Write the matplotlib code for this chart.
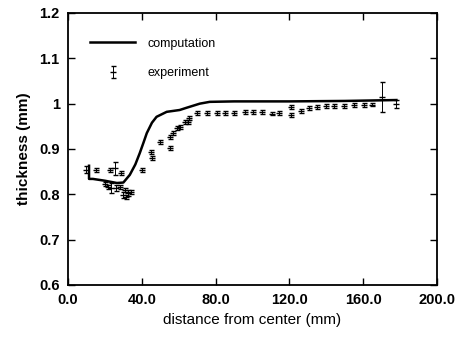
import numpy as np
import matplotlib
matplotlib.use("Agg")
import matplotlib.pyplot as plt

plt.rcParams['font.family'] = ['Liberation Sans', 'DejaVu Sans']

# computation curve
comp_x = [11.4, 11.4, 13.5, 20.0, 26.5, 30.0, 33.5, 36.5, 38.9, 41.0, 42.7, 45.5,
          48.0, 53.5, 60.5, 64.3, 71.4, 76.8, 90.0, 120.0, 150.0, 178.0]
comp_y = [0.863, 0.834, 0.834, 0.830, 0.825, 0.826, 0.843, 0.866, 0.891, 0.915, 0.935, 0.958,
          0.971, 0.982, 0.986, 0.991, 1.000, 1.004, 1.005, 1.005, 1.006, 1.008]

# experiment points with error bars
exp_x = [9.7, 15.1, 20.0, 21.6, 22.7, 23.2, 25.4, 26.0, 28.1, 28.6, 29.7, 30.8, 31.4, 32.4, 34.1,
         40.0, 44.9, 45.4, 49.7, 55.1, 55.1, 56.8, 58.9, 60.5, 63.2, 64.9, 65.5, 69.7, 75.1,
         80.5, 85.0, 90.0, 95.7, 100.0, 105.4, 110.8, 114.6, 121.0, 121.0, 126.5, 130.8, 135.0,
         140.0, 144.3, 149.7, 155.0, 160.5, 165.0, 170.0, 178.0]
exp_y = [0.854, 0.854, 0.823, 0.816, 0.854, 0.814, 0.857, 0.814, 0.816, 0.847, 0.799, 0.810, 0.794,
         0.803, 0.805, 0.854, 0.894, 0.880, 0.916, 0.902, 0.927, 0.935, 0.946, 0.949, 0.960, 0.960,
         0.968, 0.980, 0.980, 0.980, 0.980, 0.980, 0.982, 0.982, 0.982, 0.978, 0.980, 0.993, 0.975,
         0.984, 0.990, 0.993, 0.995, 0.995, 0.995, 0.997, 0.997, 0.998, 1.015, 0.999]
exp_err = [0.008, 0.004, 0.004, 0.004, 0.004, 0.012, 0.015, 0.006, 0.004, 0.004, 0.006, 0.004, 0.005,
           0.006, 0.004, 0.004, 0.004, 0.004, 0.004, 0.004, 0.004, 0.004, 0.004, 0.004, 0.005, 0.004,
           0.004, 0.004, 0.004, 0.004, 0.004, 0.004, 0.004, 0.004, 0.004, 0.004, 0.004, 0.004, 0.004,
           0.004, 0.004, 0.004, 0.004, 0.004, 0.004, 0.004, 0.004, 0.004, 0.033, 0.008]

xticks = [0, 40, 80, 120, 160, 200]
xlabels = ["0.0", "40.0", "80.0", "120.0", "160.0", "200.0"]
yticks = [0.6, 0.7, 0.8, 0.9, 1.0, 1.1, 1.2]
ylabels = ["0.6", "0.7", "0.8", "0.9", "1", "1.1", "1.2"]

fig = plt.figure(figsize=(4.59, 3.42), dpi=100)
ax = fig.add_axes([68/459, 1 - 285/342, (437 - 68)/459, (285 - 13)/342])

ax.plot(comp_x, comp_y, color='black', lw=1.8, label='computation')
ax.errorbar(exp_x, exp_y, yerr=exp_err, fmt='_', color='black', ms=5, mew=1.0,
            elinewidth=0.7, capsize=1.8, capthick=0.7, label='experiment')

ax.set_xlim(0, 200)
ax.set_ylim(0.6, 1.2)
ax.set_xticks(xticks)
ax.set_xticklabels(xlabels)
ax.set_yticks(yticks)
ax.set_yticklabels(ylabels)
ax.tick_params(direction='in', top=True, right=True, length=5, width=1.0,
               labelsize=10.5, pad=6)
for lab in ax.get_xticklabels() + ax.get_yticklabels():
    lab.set_fontweight('bold')
for s in ax.spines.values():
    s.set_linewidth(1.3)

ax.set_xlabel("distance from center (mm)", fontsize=11, labelpad=4)
ax.set_ylabel("thickness (mm)", fontsize=11, fontweight='bold', labelpad=6)

ax.legend(loc='upper left', frameon=False, fontsize=9, handlelength=3.6,
          handletextpad=1.0, bbox_to_anchor=(0.03, 0.95), labelspacing=1.4)

fig.savefig("out.png", dpi=100)
